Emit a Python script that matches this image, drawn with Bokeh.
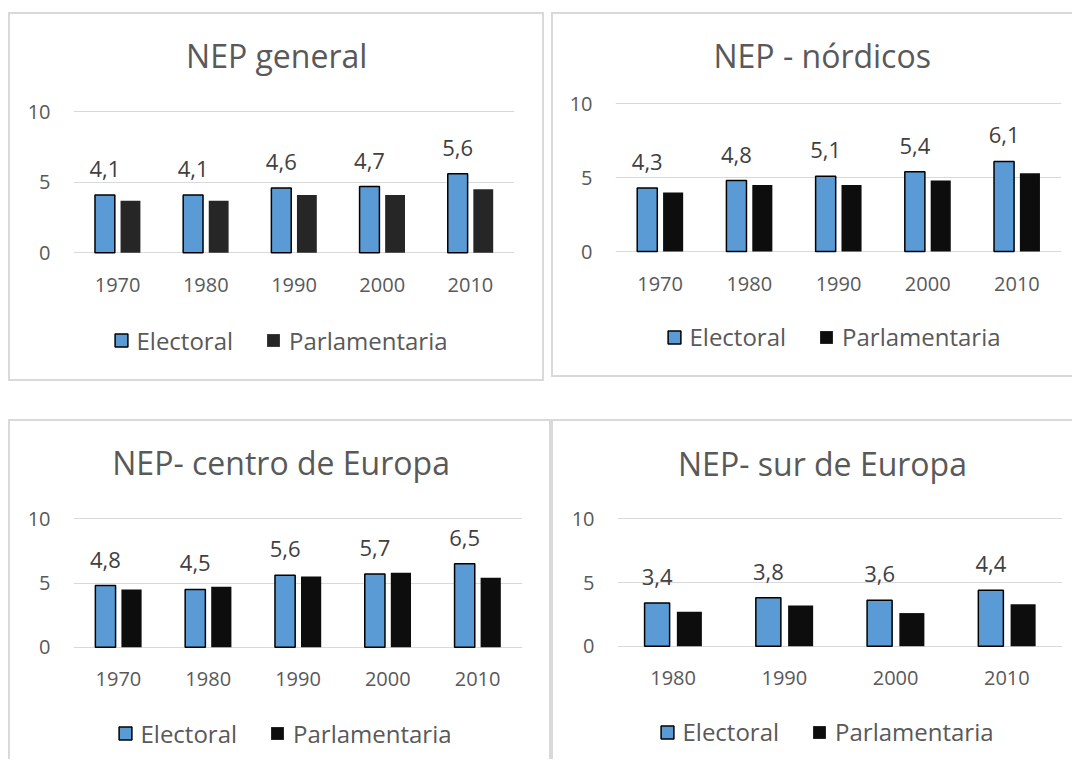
from bokeh.plotting import figure
from bokeh.models import (FactorRange, Range1d, FixedTicker, Label, Legend,
                          LegendItem, ColumnDataSource, Spacer)
from bokeh.layouts import row, column
from bokeh.transform import dodge
from bokeh.embed import file_html
from bokeh.resources import INLINE
from bokeh.core.properties import value

# ---------------- data ----------------
years_5 = ["1970", "1980", "1990", "2000", "2010"]
years_4 = ["1980", "1990", "2000", "2010"]

general_electoral = [4.1, 4.1, 4.6, 4.7, 5.6]
general_parlamentaria = [3.7, 3.7, 4.1, 4.1, 4.5]

nordicos_electoral = [4.3, 4.8, 5.1, 5.4, 6.1]
nordicos_parlamentaria = [4.0, 4.5, 4.5, 4.8, 5.3]

centro_electoral = [4.8, 4.5, 5.6, 5.7, 6.5]
centro_parlamentaria = [4.5, 4.7, 5.5, 5.8, 5.4]

sur_electoral = [3.4, 3.8, 3.6, 4.4]
sur_parlamentaria = [2.7, 3.2, 2.6, 3.3]

titles = ["NEP general", "NEP - nórdicos", "NEP- centro de Europa", "NEP- sur de Europa"]
series_names = ["Electoral", "Parlamentaria"]
y_ticks = [0, 5, 10]

# ---------------- style ----------------
FONT = "Open Sans"
TEXT = "#595959"
VAL = "#404040"
GRID = "#d9d9d9"
BLUE = "#5b9bd5"


def make_panel(title, years, elec, parl, parl_color, size, mb, pix, title_xy,
               legend_xy, css):
    # size: outer (W, H); mb: (left, right, top, bottom) min borders
    # pix: (frame_top_px, frame_bottom_px, px_of_10, px_of_0) in canvas px
    w, h = size
    bl, br, bt, bb = mb
    ftop, fbot, p10, p0 = pix
    k = (p0 - p10) / 10.0
    y_start = -(fbot - p0) / k
    y_end = 10 + (p10 - ftop) / k
    p = figure(x_range=FactorRange(factors=years), y_range=Range1d(y_start, y_end),
               width=w, height=h, output_backend="svg", toolbar_location=None,
               min_border_left=bl, min_border_right=br, min_border_top=bt,
               min_border_bottom=bb, styles=css)
    p.outline_line_color = None
    p.background_fill_color = "white"
    p.border_fill_alpha = 0

    src = ColumnDataSource(dict(
        x=years, elec=elec, parl=parl,
        lab=[f"{v:.1f}".replace(".", ",") for v in elec]))

    r1 = p.vbar(x=dodge("x", -0.144, range=p.x_range), top="elec", width=0.225,
                source=src, fill_color=BLUE, line_color="black", line_width=1.5)
    r2 = p.vbar(x=dodge("x", 0.146, range=p.x_range), top="parl", width=0.225,
                source=src, fill_color=parl_color, line_color=None)
    p.text(x=dodge("x", -0.144, range=p.x_range), y="elec", text="lab", source=src,
           text_align="center", text_baseline="alphabetic", y_offset=-26,
           text_font=value(FONT), text_font_size="22px", text_color=VAL)

    p.xgrid.grid_line_color = None
    p.ygrid.grid_line_color = GRID
    p.ygrid.grid_line_width = 1
    p.yaxis.ticker = FixedTicker(ticks=y_ticks)
    p.xaxis.fixed_location = 0
    for ax in (p.xaxis, p.yaxis):
        ax.axis_line_color = None
        ax.major_tick_line_color = None
        ax.minor_tick_line_color = None
        ax.major_label_text_font = FONT
        ax.major_label_text_font_size = "20px"
        ax.major_label_text_color = TEXT
    p.xaxis.major_label_standoff = 19
    p.yaxis.major_label_standoff = 17

    p.add_layout(Label(x=title_xy[0], y=title_xy[1] + 13, x_units="screen",
                       y_units="screen", text=title, text_align="center",
                       text_baseline="alphabetic", text_font=FONT,
                       text_font_size="32px", text_color=TEXT))

    legend = Legend(items=[LegendItem(label=series_names[0], renderers=[r1]),
                           LegendItem(label=series_names[1], renderers=[r2])],
                    location=legend_xy, orientation="horizontal",
                    glyph_width=16, glyph_height=16, label_standoff=8, spacing=32,
                    padding=0, margin=0, border_line_color=None,
                    background_fill_alpha=0, label_text_font=FONT,
                    label_text_font_size="24px", label_text_color=TEXT,
                    label_height=16)
    p.add_layout(legend)
    return p


B = f"2px solid {GRID}"
# canvas-relative pixel targets (canvas origin = element origin + border)
p1 = make_panel(titles[0], years_5, general_electoral, general_parlamentaria, "#262626",
                (536, 369), (63, 32, 0, 4), (0, 365, 97.3, 238.3),
                (203.2, 311), (39.5, 22.5), {"border": B})
p2 = make_panel(titles[1], years_5, nordicos_electoral, nordicos_parlamentaria, "#0d0d0d",
                (521, 365), (62, 13, 0, 4), (0, 361, 89.3, 237.0),
                (206.7, 306.7), (50.5, 21.8),
                {"border-left": B, "border-top": B, "border-bottom": B})
p3 = make_panel(titles[2], years_5, centro_electoral, centro_parlamentaria, "#0d0d0d",
                (543, 340), (63, 31, 0, 2), (0, 338, 97.3, 225.7),
                (207.6, 284), (43.5, 9.2),
                {"border-left": B, "border-top": B, "border-right": B})
p4 = make_panel(titles[3], years_4, sur_electoral, sur_parlamentaria, "#0d0d0d",
                (521, 340), (64, 12, 0, 2), (0, 338, 97.3, 224.7),
                (205, 283.5), (41.5, 10.8),
                {"border-left": B, "border-top": B})

layout = column(Spacer(width=10, height=12),
                row(Spacer(width=8, height=10), p1, Spacer(width=7, height=10), p2),
                Spacer(width=10, height=38),
                row(Spacer(width=8, height=10), p3, p4))

open("out.html", "w").write(file_html(layout, INLINE))
